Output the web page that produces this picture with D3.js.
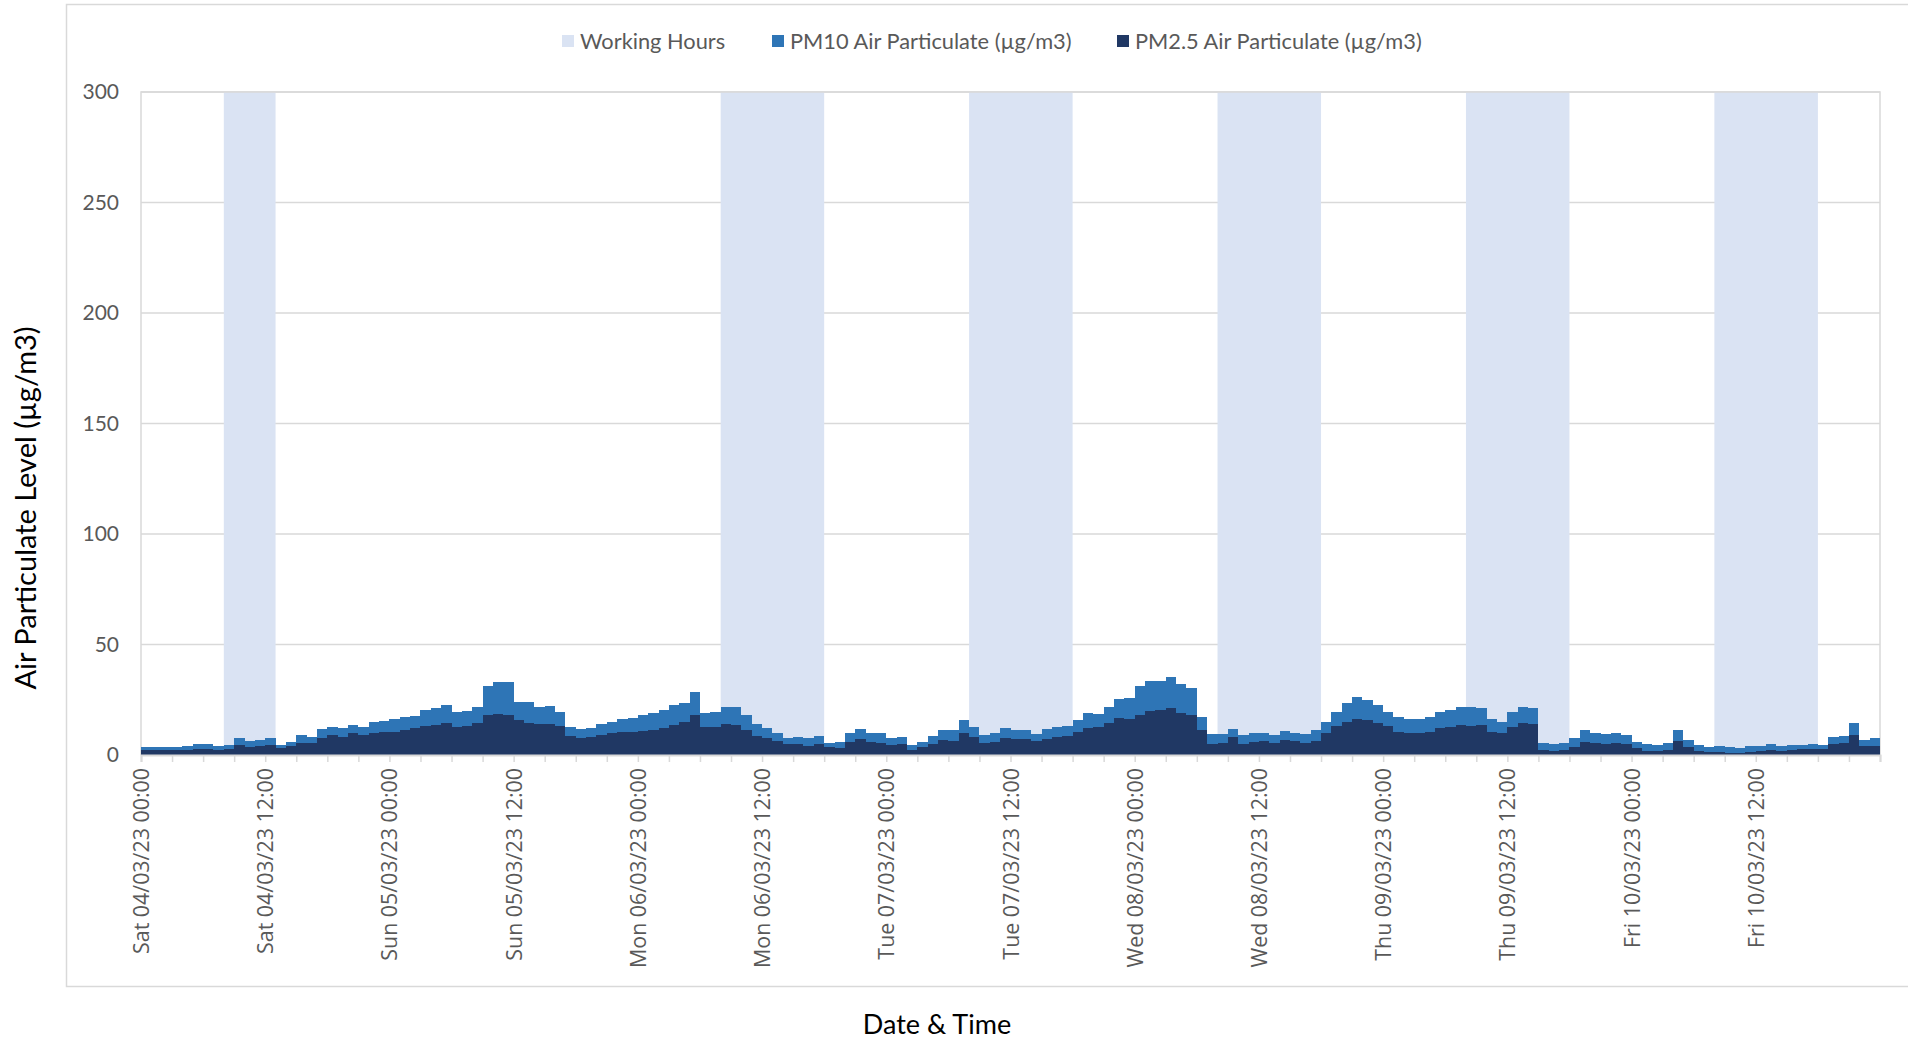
<!DOCTYPE html>
<html>
<head>
<meta charset="utf-8">
<script src="https://cdn.jsdelivr.net/npm/d3@7"></script>
<style>
  body { margin: 0; background: #fff; }
  svg text { fill: #595959; }
</style>
</head>
<body>
<div id="chart"></div>
<script>
// hourly readings from Sat 04/03/23 00:00, one value per hour (168 hours)
var startTime = new Date(2023, 2, 4, 0, 0);

var pm10 = [
  3.8, 3.8, 3.6, 3.6, 4.1, 4.8, 4.8, 4.1, 4.7, 7.5, 6.5, 6.8, 7.5, 4.5, 6.0, 9.1, 8.3, 11.6, 12.8, 12.1, 13.6, 12.8, 15.1, 15.6,
  16.2, 17.1, 17.7, 20.4, 21.1, 22.7, 19.6, 20.1, 21.9, 31.0, 33.2, 33.2, 24.2, 24.2, 21.9, 22.2, 19.6, 12.8, 11.6, 12.1, 14.0, 15.1, 16.3, 16.6,
  18.1, 18.9, 20.4, 22.7, 23.7, 28.7, 19.2, 19.6, 21.9, 21.6, 18.1, 14.0, 12.1, 9.8, 7.6, 8.3, 7.6, 8.6, 5.6, 6.0, 10.1, 11.6, 9.8, 9.8,
  7.6, 8.3, 4.5, 6.0, 8.6, 11.3, 11.3, 15.9, 12.8, 9.1, 9.8, 12.1, 11.3, 11.3, 9.5, 11.6, 12.5, 13.1, 15.9, 19.2, 18.6, 21.9, 25.5, 25.7,
  31.0, 33.7, 33.7, 35.2, 32.2, 30.2, 17.4, 9.5, 9.5, 11.6, 9.1, 9.8, 10.1, 9.1, 11.0, 9.8, 9.5, 11.3, 15.1, 19.6, 23.4, 26.1, 24.9, 22.7,
  19.6, 17.1, 16.2, 16.2, 17.4, 19.6, 20.4, 21.6, 21.6, 21.1, 16.2, 15.1, 19.6, 21.6, 21.1, 5.3, 5.0, 5.6, 7.6, 11.3, 10.1, 9.3, 9.8, 9.1,
  6.0, 5.0, 4.5, 5.3, 11.3, 6.8, 4.5, 3.8, 4.1, 3.5, 3.3, 4.1, 4.1, 4.8, 4.1, 4.5, 4.5, 4.8, 4.5, 8.3, 8.6, 14.4, 6.8, 7.6
];

var pm25 = [
  2.3, 2.3, 2.1, 2.1, 2.4, 2.7, 2.7, 2.3, 2.6, 4.4, 3.8, 4.1, 4.5, 3.0, 4.1, 5.6, 5.6, 7.6, 9.1, 8.0, 9.8, 9.1, 10.1, 10.6,
  10.6, 11.3, 12.1, 13.1, 13.6, 14.4, 12.8, 13.1, 14.4, 18.1, 18.6, 18.1, 15.9, 14.7, 14.0, 14.0, 13.1, 8.6, 7.6, 8.0, 9.1, 9.8, 10.6, 10.6,
  10.9, 11.3, 12.1, 13.6, 15.1, 18.1, 12.5, 12.5, 14.0, 13.6, 11.3, 8.6, 7.6, 6.5, 5.0, 5.0, 4.1, 5.0, 3.5, 3.0, 6.0, 7.1, 6.0, 5.6,
  4.5, 5.0, 2.3, 3.5, 5.0, 6.8, 6.5, 9.8, 8.0, 5.3, 6.0, 7.6, 7.1, 7.1, 6.5, 7.1, 8.0, 8.6, 10.6, 12.1, 12.5, 14.4, 16.6, 16.2,
  18.1, 20.1, 20.4, 21.1, 19.2, 18.1, 11.3, 5.0, 5.3, 8.0, 5.0, 6.0, 6.5, 5.3, 6.8, 6.5, 5.3, 6.5, 9.8, 13.1, 15.1, 16.2, 15.9, 14.7,
  13.1, 10.6, 10.1, 9.8, 10.6, 12.1, 12.8, 13.6, 13.1, 13.6, 10.6, 9.8, 12.8, 14.7, 14.0, 2.3, 2.0, 2.3, 3.8, 6.0, 5.3, 4.8, 5.3, 5.0,
  3.0, 2.0, 1.8, 2.3, 6.5, 3.8, 2.0, 1.5, 1.5, 1.1, 0.8, 1.5, 1.8, 2.3, 2.0, 2.3, 2.6, 2.9, 2.9, 5.0, 5.3, 9.1, 4.1, 4.1
];

// working hours periods (start, end)
var workingHours = [
  ['2023-03-04 08:00', '2023-03-04 13:00'],
  ['2023-03-06 08:00', '2023-03-06 18:00'],
  ['2023-03-07 08:00', '2023-03-07 18:00'],
  ['2023-03-08 08:00', '2023-03-08 18:00'],
  ['2023-03-09 08:00', '2023-03-09 18:00'],
  ['2023-03-10 08:00', '2023-03-10 18:00']
];

var yTicks = [0, 50, 100, 150, 200, 250, 300];
var seriesNames = ['Working Hours', 'PM10 Air Particulate (\u00b5g/m3)', 'PM2.5 Air Particulate (\u00b5g/m3)'];
var seriesColors = ['#dae3f3', '#2e75b6', '#203864'];

var width = 1908, height = 1041;
var margin = { top: 92, right: 28, bottom: 286, left: 141 };
var plotW = width - margin.left - margin.right,
    plotH = height - margin.top - margin.bottom;

var parseTime = d3.timeParse('%Y-%m-%d %H:%M');
var endTime = d3.timeHour.offset(startTime, pm10.length);

var readings = pm10.map(function(v, i) {
  return { time: d3.timeHour.offset(startTime, i), pm10: v, pm25: pm25[i] };
});

var xScale = d3.scaleTime()
  .domain([startTime, endTime])
  .range([0, plotW]);

var yScale = d3.scaleLinear()
  .domain([0, 300])
  .range([plotH, 0]);

var svg = d3.select('#chart')
  .append('svg')
  .attr('width', width)
  .attr('height', height);

// outer chart border
svg.append('rect')
  .attr('x', 66.5).attr('y', 4.5)
  .attr('width', 1900).attr('height', 982)
  .attr('fill', 'none')
  .attr('stroke', '#d9d9d9')
  .attr('stroke-width', 1.5);

var g = svg.append('g')
  .attr('transform', 'translate(' + margin.left + ',' + margin.top + ')');

// gridlines
g.append('g')
  .selectAll('line')
  .data(yTicks.slice(1))
  .enter()
  .append('line')
  .attr('x1', 0).attr('x2', plotW)
  .attr('y1', function(d) { return yScale(d); })
  .attr('y2', function(d) { return yScale(d); })
  .attr('stroke', '#d9d9d9')
  .attr('stroke-width', 1.5);

// working hours bands
g.append('g')
  .selectAll('rect')
  .data(workingHours)
  .enter()
  .append('rect')
  .attr('x', function(d) { return xScale(parseTime(d[0])); })
  .attr('width', function(d) { return xScale(parseTime(d[1])) - xScale(parseTime(d[0])); })
  .attr('y', yScale(300))
  .attr('height', yScale(0) - yScale(300))
  .attr('fill', seriesColors[0]);

// plot frame (top, left, right)
g.append('path')
  .attr('d', 'M0,' + plotH + 'V' + yScale(300) + 'H' + plotW + 'V' + plotH)
  .attr('fill', 'none')
  .attr('stroke', '#d9d9d9')
  .attr('stroke-width', 1.5);

function barX(d) { return xScale(d.time); }
function barW(d) { return xScale(d3.timeHour.offset(d.time, 1)) - xScale(d.time); }

// PM10 bars
g.append('g')
  .attr('shape-rendering', 'crispEdges')
  .selectAll('rect')
  .data(readings)
  .enter()
  .append('rect')
  .attr('x', barX)
  .attr('width', barW)
  .attr('y', function(d) { return yScale(d.pm10); })
  .attr('height', function(d) { return yScale(0) - yScale(d.pm10); })
  .attr('fill', seriesColors[1]);

// PM2.5 bars
g.append('g')
  .attr('shape-rendering', 'crispEdges')
  .selectAll('rect')
  .data(readings)
  .enter()
  .append('rect')
  .attr('x', barX)
  .attr('width', barW)
  .attr('y', function(d) { return yScale(d.pm25); })
  .attr('height', function(d) { return yScale(0) - yScale(d.pm25); })
  .attr('fill', seriesColors[2]);

// x axis
var labelFormat = d3.timeFormat('%a %d/%m/%y %H:%M');
var xAxis = d3.axisBottom(xScale)
  .ticks(d3.timeHour.every(3))
  .tickSize(7)
  .tickFormat(function(d) {
    return (d.getHours() % 12 === 0 && d < endTime) ? labelFormat(d) : '';
  });

var xGuide = g.append('g')
  .attr('transform', 'translate(0,' + plotH + ')')
  .call(xAxis);
xGuide.select('.domain').attr('stroke', '#d9d9d9').attr('stroke-width', 2);
xGuide.selectAll('.tick line').attr('stroke', '#d9d9d9').attr('stroke-width', 1.5);
xGuide.selectAll('.tick text')
  .attr('font-family', '"Open Sans", sans-serif')
  .attr('font-size', 21.4)
  .attr('text-anchor', 'end')
  .attr('transform', 'rotate(-90)')
  .attr('x', -13)
  .attr('y', 0)
  .attr('dy', '0.35em');

// y axis labels
var yAxis = d3.axisLeft(yScale)
  .tickValues(yTicks)
  .tickSize(0)
  .tickPadding(22);
var yGuide = g.append('g').call(yAxis);
yGuide.select('.domain').remove();
yGuide.selectAll('.tick text')
  .attr('font-family', 'Lato, sans-serif')
  .attr('font-size', 21);

// axis titles
svg.append('text')
  .attr('transform', 'translate(36,508) rotate(-90)')
  .attr('text-anchor', 'middle')
  .attr('font-family', 'Lato, sans-serif')
  .attr('font-size', 29)
  .style('fill', '#000')
  .text('Air Particulate Level (\u00b5g/m3)');

svg.append('text')
  .attr('x', 937)
  .attr('y', 1034)
  .attr('text-anchor', 'middle')
  .attr('font-family', 'Lato, sans-serif')
  .attr('font-size', 27)
  .style('fill', '#000')
  .text('Date & Time');

// legend
var legendX = [562, 772, 1117];
var legend = svg.append('g')
  .selectAll('g')
  .data(seriesNames)
  .enter()
  .append('g')
  .attr('transform', function(d, i) { return 'translate(' + legendX[i] + ',41)'; });
legend.append('rect')
  .attr('x', 0).attr('y', -6)
  .attr('width', 12).attr('height', 12)
  .attr('fill', function(d, i) { return seriesColors[i]; });
legend.append('text')
  .attr('x', 18)
  .attr('dy', '0.35em')
  .attr('font-family', 'Lato, sans-serif')
  .attr('font-size', 21.8)
  .text(function(d) { return d; });
</script>
</body>
</html>
